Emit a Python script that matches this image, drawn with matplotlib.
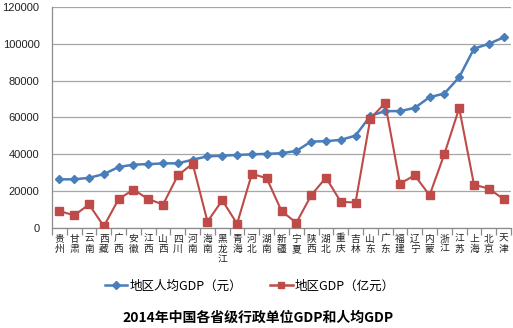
import numpy as np
import matplotlib.pyplot as plt
from matplotlib.lines import Line2D

plt.rcParams['font.family'] = ['Noto Sans CJK SC', 'DejaVu Sans']

provinces = ['贵州', '甘肃', '云南', '西藏', '广西', '安徽', '江西', '山西', '四川', '河南',
             '海南', '黑龙江', '青海', '河北', '湖南', '新疆', '宁夏', '陕西', '湖北', '重庆',
             '吉林', '山东', '广东', '福建', '辽宁', '内蒙', '浙江', '江苏', '上海', '北京', '天津']
gdp_per_capita = [26437, 26433, 27264, 29252, 33090, 34425, 34674, 35070, 35128, 37072,
                  38924, 39226, 39671, 39984, 40271, 40607, 41834, 46929, 47145, 47850,
                  50160, 60879, 63469, 63472, 65201, 71046, 73002, 81874, 97370, 99995, 103500]
gdp_total = [9251, 6835, 12815, 921, 15673, 20849, 15709, 12759, 28537, 34939,
             3501, 15039, 2301, 29421, 27048, 9273, 2752, 17690, 27367, 14263,
             13803, 59427, 67810, 24056, 28627, 17770, 40154, 65088, 23561, 21331, 15727]
yticks = [0, 20000, 40000, 60000, 80000, 100000, 120000]

blue = '#4A7EBB'
red = '#BE4B48'

fig = plt.figure(figsize=(5.13, 3.28), dpi=100)
ax = fig.add_axes([52/513, 1 - 228/328, 459/513, 221/328])

x = np.arange(len(provinces))
ax.plot(x, gdp_per_capita, color=blue, lw=1.8, marker='D', ms=4, mfc=blue, mec=blue, zorder=3)
ax.plot(x, gdp_total, color=red, lw=1.5, marker='s', ms=5.5, mfc=red, mec=red, zorder=3)

ax.set_xlim(-0.5, len(provinces) - 0.5)
ax.set_ylim(0, 120000)
ax.set_yticks(yticks)
ax.set_yticklabels([str(v) for v in yticks], fontsize=8, color='#222222', family='Liberation Sans')
ax.tick_params(axis='y', length=0, pad=9)
ax.grid(axis='y', color='#A6A6A6', lw=0.9)
ax.set_axisbelow(True)

ax.set_xticks(x)
ax.set_xticklabels(['\n'.join(p) for p in provinces], fontsize=7, linespacing=1.05, color='#222222')
ax.tick_params(axis='x', length=0, pad=4)
ax.set_xticks(np.arange(-0.5, len(provinces), 1), minor=True)
ax.tick_params(axis='x', which='minor', length=5, color='#8C8C8C', width=0.9)

for s in ['top', 'right']:
    ax.spines[s].set_visible(False)
for s in ['left', 'bottom']:
    ax.spines[s].set_color('#8C8C8C')
    ax.spines[s].set_linewidth(0.9)

handles = [Line2D([], [], color=blue, lw=1.8, marker='D', ms=4),
           Line2D([], [], color=red, lw=1.8, marker='s', ms=4.5)]
fig.legend(handles, ['地区人均GDP（元）', '地区GDP（亿元）'], loc='center',
           bbox_to_anchor=(250/513, 1 - 286/328), ncol=2, frameon=False,
           fontsize=9, handlelength=1.8, handletextpad=0.2, columnspacing=2.2)

fig.text(258/513, 1 - 318/328, '2014年中国各省级行政单位GDP和人均GDP', ha='center', va='center',
         fontsize=10, fontweight='bold')

fig.savefig('out.png', dpi=100)
